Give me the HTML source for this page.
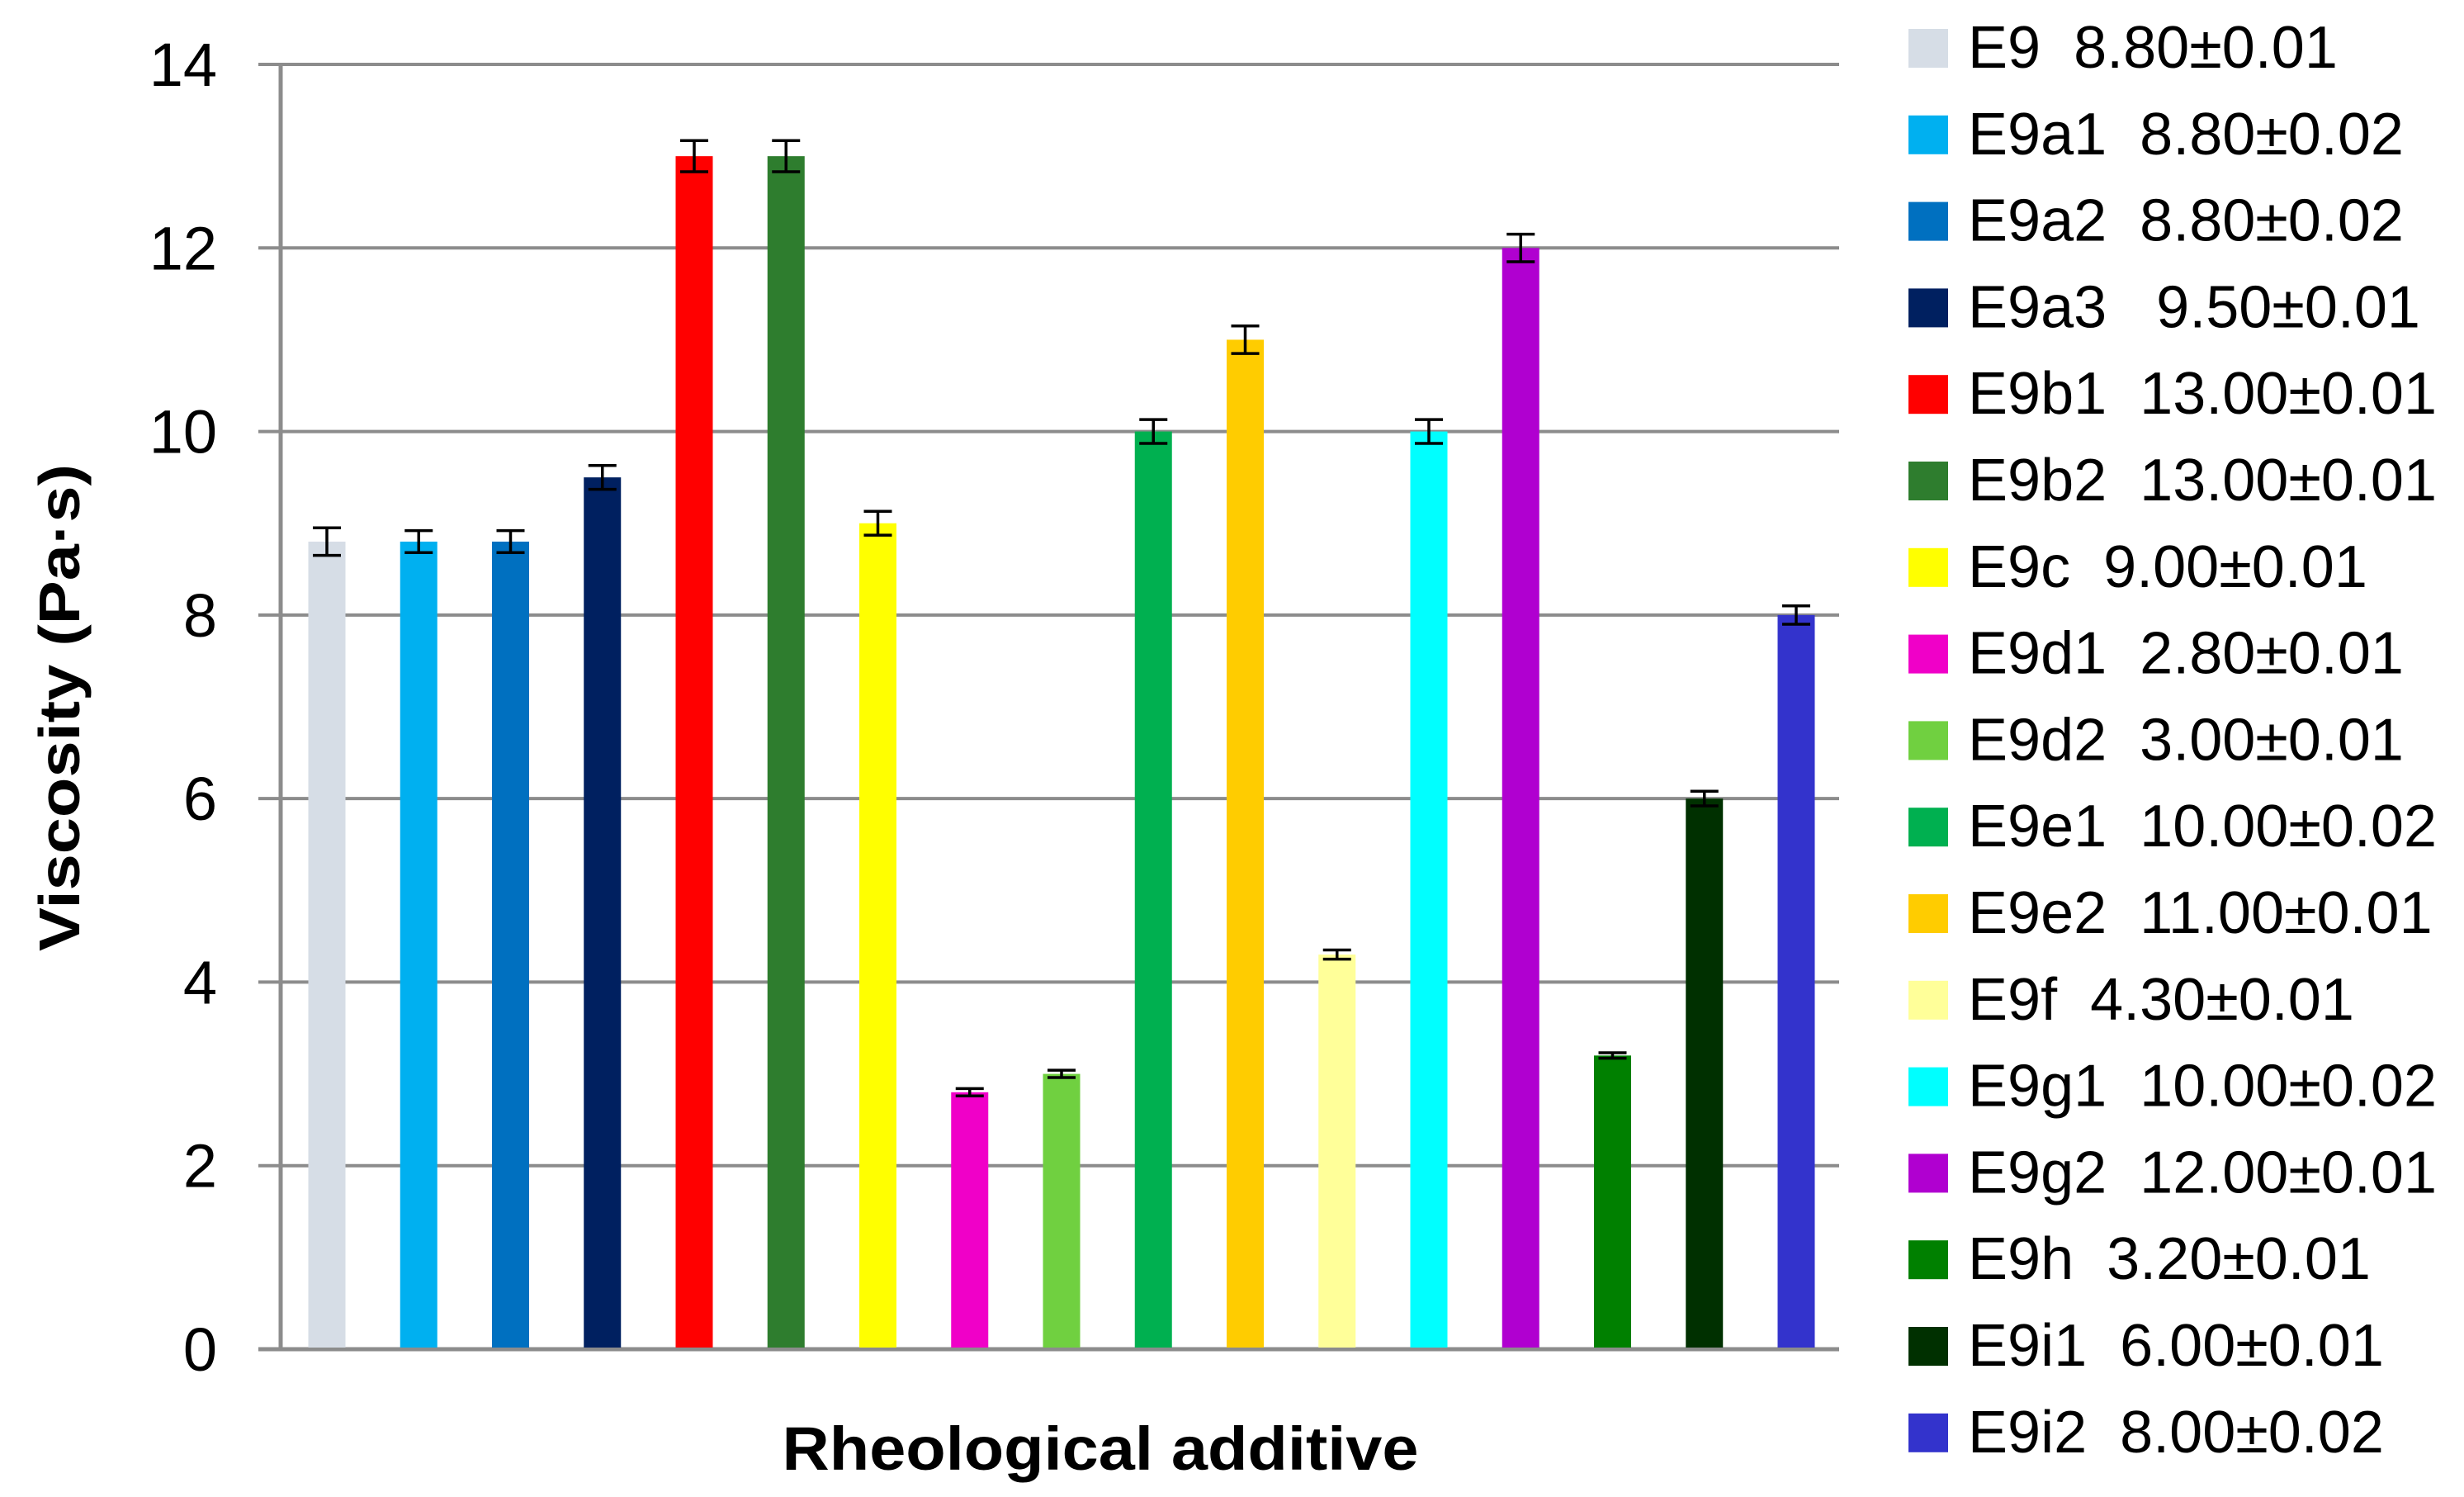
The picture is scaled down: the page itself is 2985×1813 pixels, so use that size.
<!DOCTYPE html>
<html><head><meta charset="utf-8"><style>
html,body{margin:0;padding:0;background:#fff;}
svg{display:block;font-family:"Liberation Sans",sans-serif;}
</style></head><body>
<svg id="chart" width="2985" height="1813" viewBox="0 0 2985 1813" xmlns="http://www.w3.org/2000/svg">
<g id="grid"></g>
<g id="yticks"></g>
<g id="bars"></g>
<g id="errs"></g>
<g id="legend"></g>
<text x="0" y="0" transform="translate(96,857) rotate(-90)" text-anchor="middle" font-weight="bold" font-size="70" textLength="590" lengthAdjust="spacingAndGlyphs">Viscosity (Pa·s)</text>
<text x="1333" y="1780" text-anchor="middle" font-weight="bold" font-size="74" textLength="771" lengthAdjust="spacingAndGlyphs">Rheological additive</text>
</svg>
<script>
const categories = ["E9","E9a1","E9a2","E9a3","E9b1","E9b2","E9c","E9d1","E9d2","E9e1","E9e2","E9f","E9g1","E9g2","E9h","E9i1","E9i2"];
const values = [8.8,8.8,8.8,9.5,13,13,9,2.8,3,10,11,4.3,10,12,3.2,6,8];
const errors = [0.15,0.12,0.12,0.13,0.17,0.17,0.13,0.04,0.04,0.13,0.15,0.05,0.13,0.15,0.03,0.08,0.1];
const legendLabels = ["E9  8.80±0.01","E9a1  8.80±0.02","E9a2  8.80±0.02","E9a3   9.50±0.01","E9b1  13.00±0.01","E9b2  13.00±0.01","E9c  9.00±0.01","E9d1  2.80±0.01","E9d2  3.00±0.01","E9e1  10.00±0.02","E9e2  11.00±0.01","E9f  4.30±0.01","E9g1  10.00±0.02","E9g2  12.00±0.01","E9h  3.20±0.01","E9i1  6.00±0.01","E9i2  8.00±0.02"];
const colors = ["#d6dde6","#00b0f0","#0070c0","#002060","#ff0000","#2e7d2e","#ffff00","#f000c8","#70d040","#00b050","#ffcc00","#ffff99","#00ffff","#b000d0","#008000","#003000","#3333cc"];
const yTicks = [0,2,4,6,8,10,12,14];

const NS="http://www.w3.org/2000/svg";
const plotL=340, plotR=2228, y0=1634, yTop=78, yMax=14;
const yScale=v=>y0-(v/yMax)*(y0-yTop);
const xCenter=i=>396+i*((2176-396)/(categories.length-1));
const barW=45;
function mk(tag,attrs,parent){const e=document.createElementNS(NS,tag);for(const k in attrs)e.setAttribute(k,attrs[k]);parent.appendChild(e);return e;}
const grid=document.getElementById('grid'), yt=document.getElementById('yticks');
yTicks.forEach(t=>{
  const y=yScale(t);
  const l=mk('line',{x1:313,x2:plotR,y1:y,y2:y,stroke:'#8c8c8c','stroke-width':t===0?5:4},grid);
  
  
  const tx=mk('text',{x:263,y:y+26,'text-anchor':'end','font-size':74},yt);
  tx.textContent=t;
  
  
});
const ax=mk('line',{x1:plotL,x2:plotL,y1:yTop,y2:y0,stroke:'#8c8c8c','stroke-width':5},grid);


const bars=document.getElementById('bars'), errs=document.getElementById('errs'), leg=document.getElementById('legend');
categories.forEach((c,i)=>{
  const cx=xCenter(i), y=yScale(values[i]);
  const r=mk('rect',{x:cx-barW/2,y:y,width:barW,height:y0-y-2,fill:colors[i]},bars);
  
  
  const yh=yScale(values[i]+errors[i]), yl=yScale(values[i]-errors[i]);
  const g=mk('g',{stroke:'#000','stroke-width':3.5},errs);
  
  
  mk('line',{x1:cx,x2:cx,y1:yh,y2:yl},g);
  mk('line',{x1:cx-17,x2:cx+17,y1:yh,y2:yh},g);
  mk('line',{x1:cx-17,x2:cx+17,y1:yl,y2:yl},g);
  const ly=35+i*104.8;
  const sw=mk('rect',{x:2312,y:ly,width:48,height:47,fill:colors[i]},leg);
  
  
  const lt=mk('text',{x:2384,y:ly+47,'font-size':72,'xml:space':'preserve'},leg);
  lt.style.whiteSpace='pre';
  lt.textContent=legendLabels[i];
  
  
});
</script>
</body></html>
